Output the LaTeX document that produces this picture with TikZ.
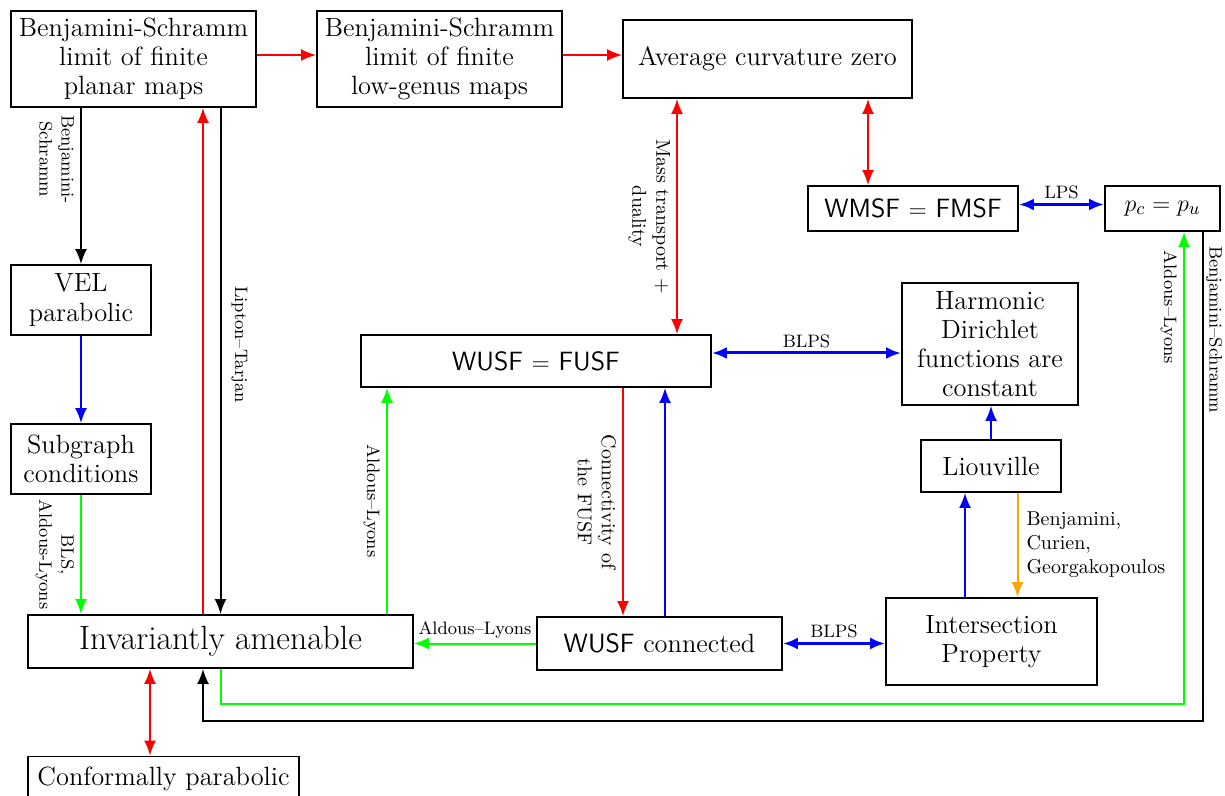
\documentclass[tikz,border=0pt]{standalone}
\usepackage{amsmath}
\usepackage{tikz}
\usetikzlibrary{arrows.meta, positioning}
\definecolor{amber}{RGB}{255,165,0}
\tikzstyle{block} = [rectangle, draw=black, line width=0.9pt, text centered, align=center, inner sep=2pt, font=\fontsize{13.2}{14.6}\selectfont]
\tikzstyle{line} = [draw, line width=1pt, -{Latex[length=7.5pt,width=6pt]}]
\tikzstyle{dline} = [draw, line width=1pt, {Latex[length=7.5pt,width=6pt]}-{Latex[length=7.5pt,width=6pt]}]
\tikzstyle{thickline} = [line width=1.5pt]
\tikzstyle{lbl} = [text=black, font=\small, inner sep=2pt]
\tikzstyle{vlbl} = [lbl, rotate=-90, align=center, inner sep=3pt]

\begin{document}
\begin{tikzpicture}[x=0.5pt, y=-0.5pt]
        \useasboundingbox (0,0) rectangle (1225,796);

		\node (bsplanar) [block, minimum width=122.5pt, minimum height=48pt] at (133.5,59) {Benjamini-Schramm\\limit of finite\\planar maps};
		\node (bsgenus) [block, minimum width=122.5pt, minimum height=48pt] at (439.5,59) {Benjamini-Schramm\\limit of finite\\low-genus maps};
		\node (curv) [block, minimum width=144.5pt, minimum height=39pt] at (767.5,59) {Average curvature zero};
		\node (wmsf) [block, minimum width=105pt, minimum height=22.5pt] at (913,208.5) {\textsf{WMSF} $=$ \textsf{FMSF}};
		\node (pcpu) [block, minimum width=57.5pt, minimum height=22.5pt] at (1162.5,208.5) {$p_c = p_u$};
		\node (vel) [block, minimum width=70pt, minimum height=35pt] at (81,300) {VEL\\parabolic};
		\node (subgraph) [block, minimum width=70pt, minimum height=35pt] at (81,459) {Subgraph\\conditions};
		\node (hdconst) [block, minimum width=88pt, minimum height=61pt] at (990,344) {Harmonic\\Dirichlet\\functions are\\constant};
		\node (wusf) [block, minimum width=175pt, minimum height=26pt] at (536,361) {\textsf{WUSF} $=$ \textsf{FUSF}};
		\node (liouville) [block, minimum width=70pt, minimum height=26pt] at (991,466) {Liouville};
		\node (invam) [block, minimum width=192.5pt, minimum height=26.5pt, font=\fontsize{16.8}{19}\selectfont] at (220.5,641.5) {Invariantly amenable};
		\node (wusfconn) [block, minimum width=122.5pt, minimum height=26.5pt] at (659.5,643.5) {\textsf{WUSF} connected};
		\node (intersect) [block, minimum width=105.5pt, minimum height=43.5pt] at (991.5,641.5) {Intersection\\Property};
		\node (confpar) [block, minimum width=135.5pt, minimum height=22pt] at (163.5,778.5) {Conformally parabolic};

		% Draw edges
		\path [line, red] ([yshift=2pt]bsplanar.east) -- ([yshift=2pt]bsplanar.east -| bsgenus.west);
		\path [line, red] ([yshift=2pt]bsgenus.east) -- ([yshift=2pt]bsgenus.east -| curv.west);
		\path [dline, red] ([xshift=-45.25pt]curv.south) -- node [vlbl, anchor=north, font=\normalsize] {Mass transport +\\duality} ([xshift=-45.25pt]curv.south |- wusf.north);
		\path [dline, red] ([xshift=-22.5pt]wmsf.north |- curv.south) -- ([xshift=-22.5pt]wmsf.north);
		\path [dline, blue, thickline] ([yshift=2pt]wmsf.east) -- node [lbl, above] {LPS} ([yshift=2pt]wmsf.east -| pcpu.west);
		\path [line] (bsplanar.south -| vel.north) -- node [vlbl, anchor=north, pos=0.33] {Benjamini-\\Schramm} (vel.north);
		\path [line, blue] (vel.south) -- (subgraph.north);
		\path [line, green] (subgraph.south) -- node [vlbl, anchor=north] {BLS,\\Aldous-Lyons} (subgraph.south |- invam.north);
		\path [line, red] ([xshift=-8.75pt]invam.north) -- ([xshift=-8.75pt]invam.north |- bsplanar.south);
		\path [line] (invam.north |- bsplanar.south) -- node [vlbl, anchor=south, pos=0.467, inner sep=5pt] {Lipton--Tarjan} (invam.north);
		\path [dline, red] ([xshift=-6.75pt]confpar.north) -- ([xshift=-6.75pt]confpar.north |- invam.south);
		\path [line, green] ([xshift=83.25pt]invam.north) -- node [vlbl, anchor=north] {Aldous--Lyons} ([xshift=83.25pt]invam.north |- wusf.south);
		\path [line, red] ([xshift=-18.25pt]wusfconn.north |- wusf.south) -- node [vlbl, anchor=north, font=\normalsize] {Connectivity of\\the FUSF} ([xshift=-18.25pt]wusfconn.north);
		\path [line, blue] ([xshift=2.75pt]wusfconn.north) -- ([xshift=2.75pt]wusfconn.north |- wusf.south);
		\path [line, green] (wusfconn.west) -- node [lbl, above] {Aldous--Lyons} (wusfconn.west -| invam.east);
		\path [dline, blue, thickline] (wusfconn.east) -- node [lbl, above] {BLPS} (wusfconn.east -| intersect.west);
		\path [dline, blue, thickline] ([yshift=4pt]wusf.east) -- node [lbl, above] {BLPS} ([yshift=4pt]wusf.east -| hdconst.west);
		\path [line, blue] ([xshift=-13.25pt]intersect.north) -- ([xshift=-13.25pt]intersect.north |- liouville.south);
		\path [line, amber] ([xshift=13.25pt]liouville.south) -- node [lbl, right, align=left, font=\normalsize, inner sep=4pt] {Benjamini,\\Curien,\\Georgakopoulos} ([xshift=13.25pt]liouville.south |- intersect.north);
		\path [line, blue] (liouville.north) -- (liouville.north |- hdconst.south);
		\path [line, green] (invam.south) -- ++(0,35) -| node [vlbl, anchor=north, pos=0.92] {Aldous--Lyons} ([xshift=10.75pt]pcpu.south);
		\path [line] ([xshift=20.25pt]pcpu.south) -- node [vlbl, anchor=south, pos=0.2, inner sep=1pt] {Benjamini--Schramm} ++(0,489) -| ([xshift=-8.75pt]invam.south);

\end{tikzpicture}
\end{document}
